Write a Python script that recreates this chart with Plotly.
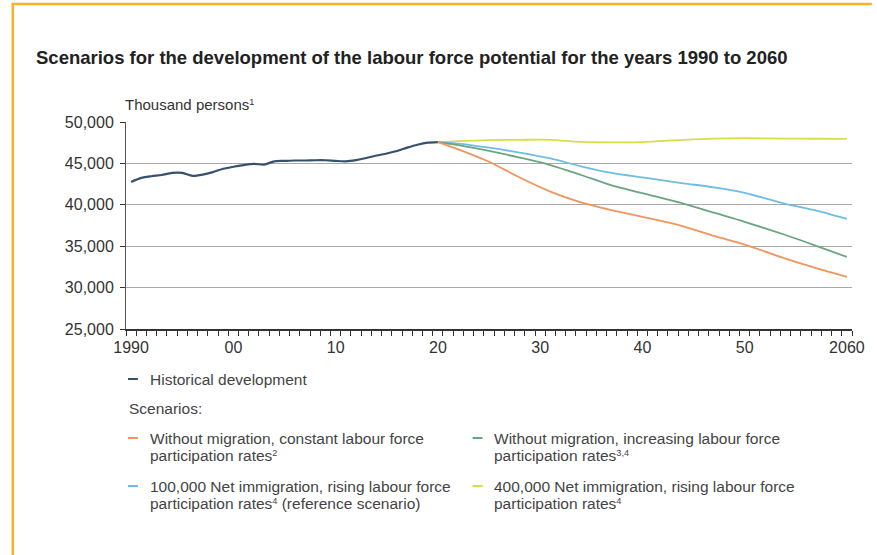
import plotly.graph_objects as go

# ---------------- data ----------------
hist_years = list(range(1990, 2021))
hist_values = [42750, 43250, 43450, 43600, 43850, 43850, 43500, 43650, 43950, 44350,
               44600, 44800, 44950, 44850, 45250, 45300, 45350, 45350, 45380, 45380,
               45300, 45250, 45400, 45650, 45950, 46200, 46500, 46900, 47250, 47500,
               47580]

scen_years = [2020, 2022, 2025, 2028, 2031, 2034, 2037, 2040, 2044, 2047, 2050, 2054, 2057, 2060]
no_migr_const = [47580, 46700, 45200, 43300, 41600, 40300, 39350, 38550, 37400, 36250, 35200, 33500, 32350, 31300]
no_migr_incr = [47580, 47200, 46500, 45700, 44800, 43600, 42350, 41400, 40150, 39050, 37950, 36350, 35050, 33700]
net_100k = [47580, 47400, 46900, 46300, 45600, 44650, 43850, 43300, 42600, 42100, 41450, 40100, 39300, 38300]
net_400k = [47580, 47700, 47800, 47850, 47850, 47600, 47550, 47580, 47850, 48000, 48050, 48000, 47980, 47950]

x_tick_vals = [1990, 2000, 2010, 2020, 2030, 2040, 2050, 2060]
x_tick_text = ["1990", "00", "10", "20", "30", "40", "50", "2060"]
y_tick_vals = [25000, 30000, 35000, 40000, 45000, 50000]

SUP = "<span style='font-size:13px'><sup>{}</sup></span>"
title_text = "Scenarios for the development of the labour force potential for the years 1990 to 2060"
y_unit_text = "Thousand persons" + SUP.format("1")
hist_name = "Historical development"
scen_heading = "Scenarios:"
scen_lines = [
    ["Without migration, constant labour force", "participation rates" + SUP.format("2")],
    ["Without migration, increasing labour force", "participation rates" + SUP.format("3,4")],
    ["100,000 Net immigration, rising labour force", "participation rates" + SUP.format("4") + " (reference scenario)"],
    ["400,000 Net immigration, rising labour force", "participation rates" + SUP.format("4")],
]

# ---------------- styles ----------------
C_HIST = "#36506f"
C_ORANGE = "#f0955e"
C_GREEN = "#6aa582"
C_BLUE = "#6fbde3"
C_YELLOW = "#d6df48"
FONT = "Liberation Sans, Arial, sans-serif"
TXT = "#333333"

W, H = 877, 555
ML, MR, MT, MB = 126, 20, 122, 226
PW, PH = W - ML - MR, H - MT - MB


def px_x(p):
    return (p - ML) / PW


def px_y(p):
    return (H - MB - p) / PH


fig = go.Figure()
scen_series = [(no_migr_const, C_ORANGE), (no_migr_incr, C_GREEN), (net_100k, C_BLUE), (net_400k, C_YELLOW)]
for vals, col in reversed(scen_series):
    fig.add_trace(go.Scatter(x=scen_years, y=vals, mode="lines",
                             line=dict(color=col, width=1.8, shape="spline", smoothing=0.8),
                             showlegend=False, hoverinfo="skip"))
fig.add_trace(go.Scatter(x=hist_years, y=hist_values, mode="lines",
                         line=dict(color=C_HIST, width=2.2, shape="spline", smoothing=0.7),
                         showlegend=False, hoverinfo="skip"))

fig.update_layout(
    width=W, height=H,
    margin=dict(l=ML, r=MR, t=MT, b=MB, pad=0),
    paper_bgcolor="white", plot_bgcolor="white",
    font=dict(family=FONT, size=16, color=TXT),
    showlegend=False,
)
fig.update_xaxes(
    range=[1989.5, 2060.5], tickmode="array", tickvals=x_tick_vals, ticktext=x_tick_text,
    ticks="", showgrid=False, zeroline=False,
    showline=True, linecolor="#333333", linewidth=1.5,
    tickfont=dict(size=16, color=TXT), ticklabelstandoff=3,
    minor=dict(tickmode="linear", tick0=1989.5, dtick=1, ticks="outside",
               ticklen=5, tickwidth=1.3, tickcolor="#333333", showgrid=False),
)
fig.update_yaxes(
    range=[25000, 50000], tickmode="array", tickvals=y_tick_vals,
    tickformat=",d", ticks="outside", ticklen=5, tickwidth=1.3, tickcolor="#333333",
    showgrid=True, gridcolor="#aaaaaa", gridwidth=1.2, zeroline=False,
    showline=True, linecolor="#555555", linewidth=1,
    tickfont=dict(size=16, color=TXT), ticklabelstandoff=3,
)

ann = []
ann.append(dict(text="<b>" + title_text + "</b>", x=px_x(33), y=px_y(58), xref="paper", yref="paper",
                xanchor="left", yanchor="middle", showarrow=False,
                font=dict(size=18.5, color="#222222", family=FONT)))
ann.append(dict(text=y_unit_text, x=px_x(123), y=px_y(104), xref="paper", yref="paper",
                xanchor="left", yanchor="middle", showarrow=False,
                font=dict(size=15, color=TXT, family=FONT)))

shapes = []
# orange frame (top and left edges)
shapes.append(dict(type="line", xref="paper", yref="paper", x0=px_x(11), x1=px_x(877),
                   y0=px_y(4), y1=px_y(4), line=dict(color="#f9b225", width=2.5)))
shapes.append(dict(type="line", xref="paper", yref="paper", x0=px_x(12), x1=px_x(12),
                   y0=px_y(3), y1=px_y(555), line=dict(color="#f9b225", width=2.5)))

LEG_FONT = dict(size=15.5, color="#444444", family=FONT)


def text_line(x, y, text):
    ann.append(dict(text=text, x=px_x(x), y=px_y(y), xref="paper", yref="paper",
                    xanchor="left", yanchor="middle", align="left", showarrow=False, font=LEG_FONT))


def legend_item(x_sw, y_first, color, lines):
    shapes.append(dict(type="line", xref="paper", yref="paper",
                       x0=px_x(x_sw), x1=px_x(x_sw + 10), y0=px_y(y_first), y1=px_y(y_first),
                       line=dict(color=color, width=2)))
    for i, t in enumerate(lines):
        text_line(x_sw + 20, y_first + i * 17.5, t)


legend_item(128, 379, C_HIST, [hist_name])
text_line(127, 408, scen_heading)
legend_item(128, 438, C_ORANGE, scen_lines[0])
legend_item(475, 438, C_GREEN, scen_lines[1])
legend_item(128, 486, C_BLUE, scen_lines[2])
legend_item(475, 486, C_YELLOW, scen_lines[3])

fig.update_layout(annotations=ann, shapes=shapes)
fig.write_html("out.html", config={"displayModeBar": False},
               post_script="document.body.style.margin='0';document.body.style.overflow='hidden';")
